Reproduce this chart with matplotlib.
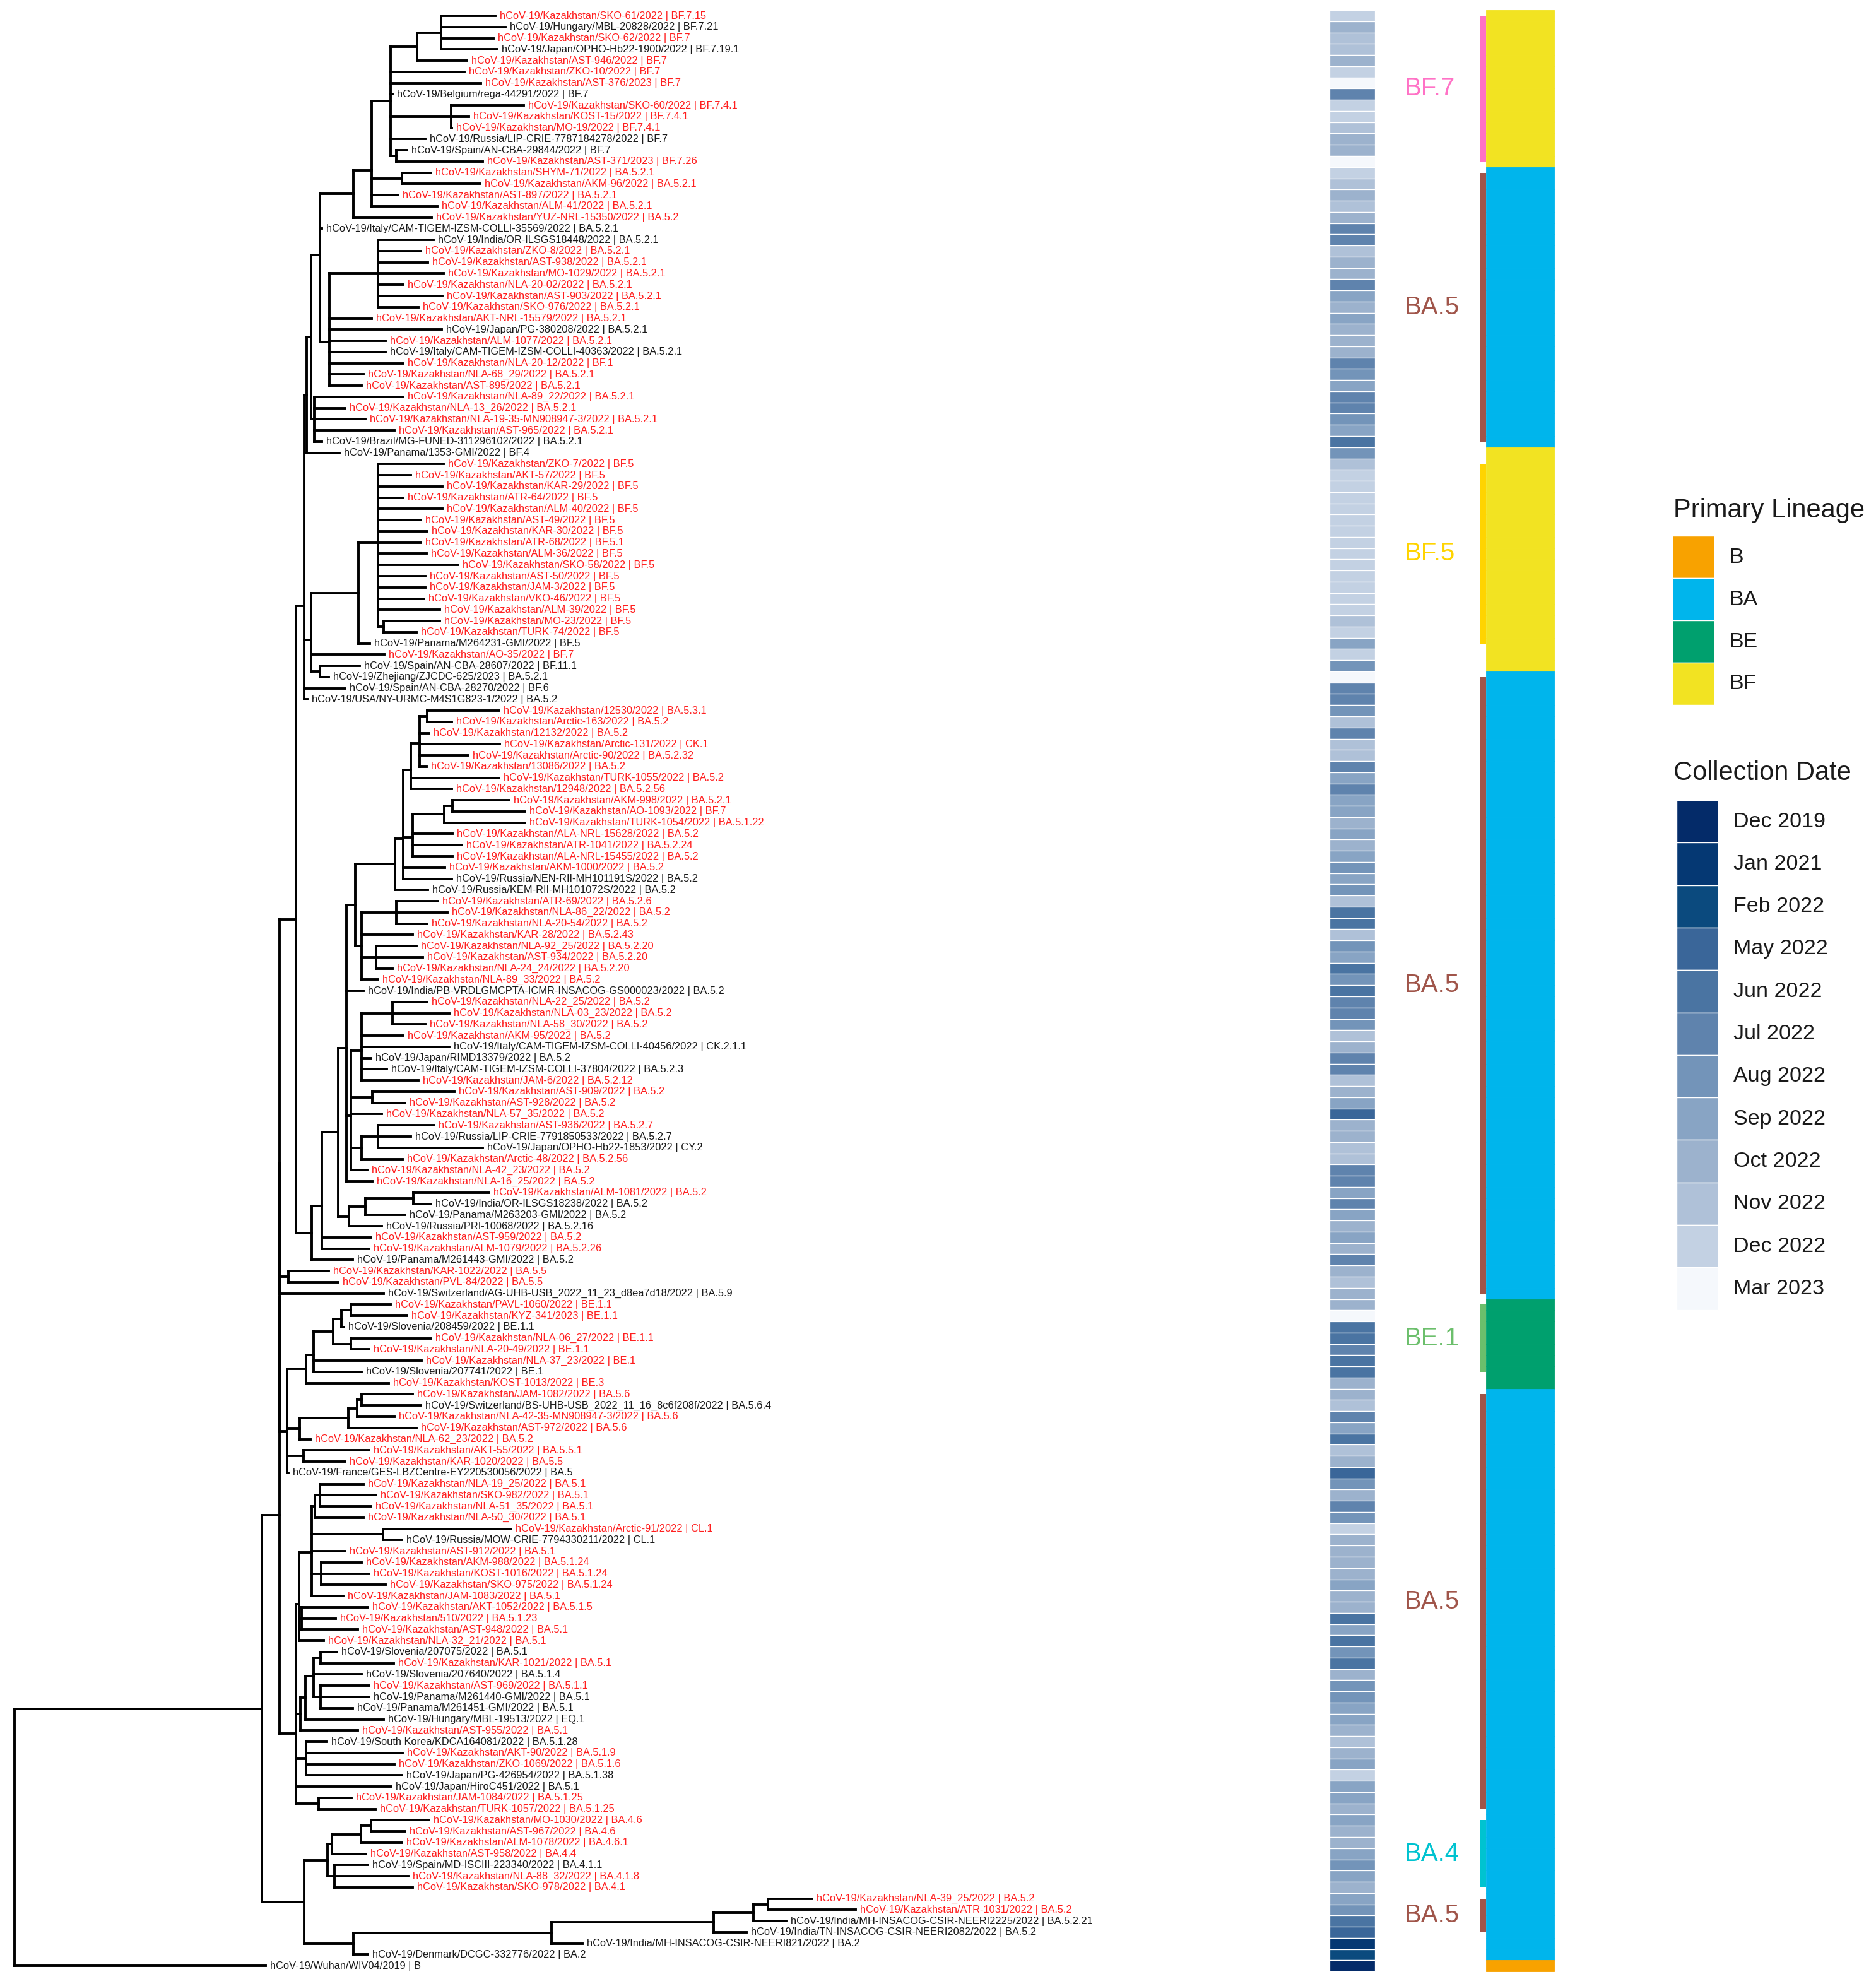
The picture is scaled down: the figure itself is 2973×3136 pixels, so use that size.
import numpy as np
import matplotlib
matplotlib.use("Agg")
import matplotlib.pyplot as plt
from matplotlib.collections import LineCollection
from matplotlib.patches import Rectangle

plt.rcParams['font.family'] = ['Liberation Sans', 'DejaVu Sans']

# ---------------- tree (newick pieces, branch lengths in tree units) ----------------
BF7 = ("(((Kazakhstan/SKO-61/2022 | BF.7.15:0.086,Hungary/MBL-20828/2022 | BF.7.21:0.102,"
       "Kazakhstan/SKO-62/2022 | BF.7:0.083,Japan/OPHO-Hb22-1900/2022 | BF.7.19.1:0.089):0.038,"
       "Kazakhstan/AST-946/2022 | BF.7:0.079):0.042,Kazakhstan/ZKO-10/2022 | BF.7:0.117,"
       "Kazakhstan/AST-376/2023 | BF.7:0.143,Belgium/rega-44291/2022 | BF.7:0.003,"
       "(Kazakhstan/SKO-60/2022 | BF.7.4.1:0.115,Kazakhstan/KOST-15/2022 | BF.7.4.1:0.028,"
       "Kazakhstan/MO-19/2022 | BF.7.4.1:0.001):0.096,Russia/LIP-CRIE-7787184278/2022 | BF.7:0.055,"
       "(Spain/AN-CBA-29844/2022 | BF.7:0.017,Kazakhstan/AST-371/2023 | BF.7.26:0.137):0.009)")
BA521_TOP = ("((" + BF7 + ":0.030,(Kazakhstan/SHYM-71/2022 | BA.5.2.1:0.046,"
             "Kazakhstan/AKM-96/2022 | BA.5.2.1:0.124):0.048,Kazakhstan/AST-897/2022 | BA.5.2.1:0.042,"
             "Kazakhstan/ALM-41/2022 | BA.5.2.1:0.104):0.029,Kazakhstan/YUZ-NRL-15350/2022 | BA.5.2:0.124)")
BA521_K = ("((India/OR-ILSGS18448/2022 | BA.5.2.1:0.088,Kazakhstan/ZKO-8/2022 | BA.5.2.1:0.068,"
           "Kazakhstan/AST-938/2022 | BA.5.2.1:0.079,Kazakhstan/MO-1029/2022 | BA.5.2.1:0.104,"
           "Kazakhstan/NLA-20-02/2022 | BA.5.2.1:0.040,Kazakhstan/AST-903/2022 | BA.5.2.1:0.102,"
           "Kazakhstan/SKO-976/2022 | BA.5.2.1:0.064):0.077,Kazakhstan/AKT-NRL-15579/2022 | BA.5.2.1:0.067,"
           "Japan/PG-380208/2022 | BA.5.2.1:0.178,Kazakhstan/ALM-1077/2022 | BA.5.2.1:0.089,"
           "Italy/CAM-TIGEM-IZSM-COLLI-40363/2022 | BA.5.2.1:0.089,Kazakhstan/NLA-20-12/2022 | BF.1:0.117,"
           "Kazakhstan/NLA-68_29/2022 | BA.5.2.1:0.054,Kazakhstan/AST-895/2022 | BA.5.2.1:0.051)")
I_CLADE = ("(" + BA521_TOP + ":0.053,Italy/CAM-TIGEM-IZSM-COLLI-35569/2022 | BA.5.2.1:0.003,"
           + BA521_K + ":0.015)")
Q2 = ("(Kazakhstan/NLA-89_22/2022 | BA.5.2.1:0.141,Kazakhstan/NLA-13_26/2022 | BA.5.2.1:0.049,"
      "Kazakhstan/NLA-19-35-MN908947-3/2022 | BA.5.2.1:0.081,Kazakhstan/AST-965/2022 | BA.5.2.1:0.127,"
      "Brazil/MG-FUNED-311296102/2022 | BA.5.2.1:0.012)")
BF5 = ("(Kazakhstan/ZKO-7/2022 | BF.5:0.104,Kazakhstan/AKT-57/2022 | BF.5:0.052,"
       "Kazakhstan/KAR-29/2022 | BF.5:0.102,Kazakhstan/ATR-64/2022 | BF.5:0.040,"
       "Kazakhstan/ALM-40/2022 | BF.5:0.102,Kazakhstan/AST-49/2022 | BF.5:0.068,"
       "Kazakhstan/KAR-30/2022 | BF.5:0.078,Kazakhstan/ATR-68/2022 | BF.5.1:0.068,"
       "Kazakhstan/ALM-36/2022 | BF.5:0.077,Kazakhstan/SKO-58/2022 | BF.5:0.127,"
       "Kazakhstan/AST-50/2022 | BF.5:0.075,Kazakhstan/JAM-3/2022 | BF.5:0.075,"
       "Kazakhstan/VKO-46/2022 | BF.5:0.073,Kazakhstan/ALM-39/2022 | BF.5:0.098,"
       "(Kazakhstan/MO-23/2022 | BF.5:0.089,Kazakhstan/TURK-74/2022 | BF.5:0.052):0.009)")
S_CLADE = ("((" + BF5 + ":0.031,Panama/M264231-GMI/2022 | BF.5:0.018):0.075,"
           "Kazakhstan/AO-35/2022 | BF.7:0.116,(Spain/AN-CBA-28607/2022 | BF.11.1:0.063,"
           "Zhejiang/ZJCDC-625/2023 | BA.5.2.1:0.014):0.014)")
V_CLADE = ("(((" + I_CLADE + ":0.014," + Q2 + ":0.005):0.007,Panama/1353-GMI/2022 | BF.4:0.052):0.004,"
           + S_CLADE + ":0.011,Spain/AN-CBA-28270/2022 | BF.6:0.065,"
           "USA/NY-URMC-M4S1G823-1/2022 | BA.5.2:0.005)")

Z1 = ("((Kazakhstan/12530/2022 | BA.5.3.1:0.114,Kazakhstan/Arctic-163/2022 | BA.5.2:0.039):0.012,"
      "Kazakhstan/12132/2022 | BA.5.2:0.015,Kazakhstan/Arctic-131/2022 | CK.1:0.127,"
      "Kazakhstan/Arctic-90/2022 | BA.5.2.32:0.077,Kazakhstan/13086/2022 | BA.5.2:0.011)")
Z2 = ("(" + Z1 + ":0.014,Kazakhstan/TURK-1055/2022 | BA.5.2:0.140,"
      "Kazakhstan/12948/2022 | BA.5.2.56:0.065)")
Z4 = ("(((Kazakhstan/AKM-998/2022 | BA.5.2.1:0.090,Kazakhstan/AO-1093/2022 | BF.7:0.115):0.013,"
      "Kazakhstan/TURK-1054/2022 | BA.5.1.22:0.128):0.050,Kazakhstan/ALA-NRL-15628/2022 | BA.5.2:0.063,"
      "Kazakhstan/ATR-1041/2022 | BA.5.2.24:0.078,Kazakhstan/ALA-NRL-15455/2022 | BA.5.2:0.063)")
Z7 = ("((" + Z2 + ":0.012," + Z4 + ":0.015,Kazakhstan/AKM-1000/2022 | BA.5.2:0.066,"
      "Russia/NEN-RII-MH101191S/2022 | BA.5.2:0.077):0.013,Russia/KEM-RII-MH101072S/2022 | BA.5.2:0.052)")
Z11 = ("((Kazakhstan/ATR-69/2022 | BA.5.2.6:0.066,Kazakhstan/NLA-86_22/2022 | BA.5.2:0.081,"
       "Kazakhstan/NLA-20-54/2022 | BA.5.2:0.049):0.055,Kazakhstan/KAR-28/2022 | BA.5.2.43:0.081,"
       "(Kazakhstan/NLA-92_25/2022 | BA.5.2.20:0.064,Kazakhstan/AST-934/2022 | BA.5.2.20:0.074,"
       "Kazakhstan/NLA-24_24/2022 | BA.5.2.20:0.026):0.023,Kazakhstan/NLA-89_33/2022 | BA.5.2:0.026)")
Z8 = "(" + Z7 + ":0.063," + Z11 + ":0.010)"
Z14 = ("((Kazakhstan/NLA-22_25/2022 | BA.5.2:0.055,Kazakhstan/NLA-03_23/2022 | BA.5.2:0.090,"
       "Kazakhstan/NLA-58_30/2022 | BA.5.2:0.052):0.049,Kazakhstan/AKM-95/2022 | BA.5.2:0.066,"
       "Italy/CAM-TIGEM-IZSM-COLLI-40456/2022 | CK.2.1.1:0.139,Japan/RIMD13379/2022 | BA.5.2:0.015,"
       "Italy/CAM-TIGEM-IZSM-COLLI-37804/2022 | BA.5.2.3:0.040,Kazakhstan/JAM-6/2022 | BA.5.2.12:0.090)")
Z16 = ("(" + Z14 + ":0.017,(Kazakhstan/AST-909/2022 | BA.5.2:0.130,Kazakhstan/AST-928/2022 | BA.5.2:0.052):0.034,"
       "Kazakhstan/NLA-57_35/2022 | BA.5.2:0.049,((Kazakhstan/AST-936/2022 | BA.5.2.7:0.089,"
       "Russia/LIP-CRIE-7791850533/2022 | BA.5.2.7:0.052,Japan/OPHO-Hb22-1853/2022 | CY.2:0.166):0.026,"
       "Kazakhstan/Arctic-48/2022 | BA.5.2.56:0.065):0.017,Kazakhstan/NLA-42_23/2022 | BA.5.2:0.026)")
Z13 = ("(" + Z8 + ":0.014,India/PB-VRDLGMCPTA-ICMR-INSACOG-GS000023/2022 | BA.5.2:0.027,"
       + Z16 + ":0.007,Kazakhstan/NLA-16_25/2022 | BA.5.2:0.041)")
N553 = ("(((Kazakhstan/ALM-1081/2022 | BA.5.2:0.120,India/OR-ILSGS18238/2022 | BA.5.2:0.028):0.076,"
        "Panama/M263203-GMI/2022 | BA.5.2:0.063):0.026,Russia/PRI-10068/2022 | BA.5.2.16:0.052)")
N494 = ("(((" + Z13 + ":0.013," + N553 + ":0.017):0.026,Kazakhstan/AST-959/2022 | BA.5.2:0.078,"
        "Kazakhstan/ALM-1079/2022 | BA.5.2.26:0.075):0.016,Panama/M261443-GMI/2022 | BA.5.2:0.065)")
W_CLADE = "(" + V_CLADE + ":0.013," + N494 + ":0.025)"

BE = ("((((Kazakhstan/PAVL-1060/2022 | BE.1.1:0.063,Kazakhstan/KYZ-341/2023 | BE.1.1:0.089):0.015,"
      "Slovenia/208459/2022 | BE.1.1:0.004):0.013,(Kazakhstan/NLA-06_27/2022 | BE.1.1:0.127,"
      "Kazakhstan/NLA-20-49/2022 | BE.1.1:0.029):0.028):0.031,Kazakhstan/NLA-37_23/2022 | BE.1:0.171,"
      "Slovenia/207741/2022 | BE.1:0.076)")
BEX = "(" + BE + ":0.012,Kazakhstan/KOST-1013/2022 | BE.3:0.131)"
BA56 = ("((((Kazakhstan/JAM-1082/2022 | BA.5.6:0.081,"
        "Switzerland/BS-UHB-USB_2022_11_16_8c6f208f/2022 | BA.5.6.4:0.094):0.007,"
        "Kazakhstan/NLA-42-35-MN908947-3/2022 | BA.5.6:0.059):0.014,Kazakhstan/AST-972/2022 | BA.5.6:0.108):0.077,"
        "Kazakhstan/NLA-62_23/2022 | BA.5.2:0.017)")
N5 = ("(" + BEX + ":0.030," + BA56 + ":0.020,(Kazakhstan/AKT-55/2022 | BA.5.5.1:0.104,"
      "Kazakhstan/KAR-1020/2022 | BA.5.5:0.066):0.026,France/GES-LBZCentre-EY220530056/2022 | BA.5:0.002)")

B51A = ("(((Kazakhstan/NLA-19_25/2022 | BA.5.1:0.069,Kazakhstan/SKO-982/2022 | BA.5.1:0.089,"
        "Kazakhstan/NLA-51_35/2022 | BA.5.1:0.081):0.008,Kazakhstan/NLA-50_30/2022 | BA.5.1:0.077):0.005,"
        "(Kazakhstan/Arctic-91/2022 | CL.1:0.203,Russia/MOW-CRIE-7794330211/2022 | CL.1:0.030):0.113,"
        "Kazakhstan/AST-912/2022 | BA.5.1:0.053,(Kazakhstan/AKM-988/2022 | BA.5.1.24:0.064,"
        "Kazakhstan/KOST-1016/2022 | BA.5.1.24:0.076,Kazakhstan/SKO-975/2022 | BA.5.1.24:0.102):0.015,"
        "Kazakhstan/JAM-1083/2022 | BA.5.1:0.050)")
B51C = ("(" + B51A + ":0.020,(Kazakhstan/AKT-1052/2022 | BA.5.1.5:0.105,Kazakhstan/510/2022 | BA.5.1.23:0.054,"
        "Kazakhstan/AST-948/2022 | BA.5.1:0.089):0.004,Kazakhstan/NLA-32_21/2022 | BA.5.1:0.039)")
N476 = ("((((Slovenia/207075/2022 | BA.5.1:0.026,Kazakhstan/KAR-1021/2022 | BA.5.1:0.116):0.011,"
        "Slovenia/207640/2022 | BA.5.1.4:0.076,(Kazakhstan/AST-969/2022 | BA.5.1.1:0.077,"
        "Panama/M261440-GMI/2022 | BA.5.1:0.077,Panama/M261451-GMI/2022 | BA.5.1:0.051):0.011):0.013,"
        "Hungary/MBL-19513/2022 | EQ.1:0.124):0.008,Kazakhstan/AST-955/2022 | BA.5.1:0.091)")
N485 = ("(South Korea/KDCA164081/2022 | BA.5.1.28:0.033,Kazakhstan/AKT-90/2022 | BA.5.1.9:0.153,"
        "Kazakhstan/ZKO-1069/2022 | BA.5.1.6:0.140,Japan/PG-426954/2022 | BA.5.1.38:0.152)")
B51 = ("(" + B51C + ":0.005," + N476 + ":0.007," + N485 + ":0.016,Japan/HiroC451/2022 | BA.5.1:0.151,"
       "(Kazakhstan/JAM-1084/2022 | BA.5.1.25:0.052,Kazakhstan/TURK-1057/2022 | BA.5.1.25:0.090):0.036)")

X_CLADE = ("(((" + W_CLADE + ":0.026,(Kazakhstan/KAR-1022/2022 | BA.5.5:0.064,"
           "Kazakhstan/PVL-84/2022 | BA.5.5:0.079):0.014,"
           "Switzerland/AG-UHB-USB_2022_11_23_d8ea7d18/2022 | BA.5.9:0.165):0.000,"
           + N5 + ":0.012):0.000," + B51 + ":0.026)")

BA4 = ("((((Kazakhstan/MO-1030/2022 | BA.4.6:0.092,Kazakhstan/AST-967/2022 | BA.4.6:0.054):0.016,"
       "Kazakhstan/ALM-1078/2022 | BA.4.6.1:0.065):0.046,Kazakhstan/AST-958/2022 | BA.4.4:0.054):0.007,"
       "(Spain/MD-ISCIII-223340/2022 | BA.4.1.1:0.053,Kazakhstan/NLA-88_32/2022 | BA.4.1.8:0.117,"
       "Kazakhstan/SKO-978/2022 | BA.4.1:0.124):0.011)")
BA2 = ("(((((Kazakhstan/NLA-39_25/2022 | BA.5.2:0.070,Kazakhstan/ATR-1031/2022 | BA.5.2:0.139):0.023,"
       "India/MH-INSACOG-CSIR-NEERI2225/2022 | BA.5.2.21:0.052):0.063,"
       "India/TN-INSACOG-CSIR-NEERI2082/2022 | BA.5.2:0.052):0.257,"
       "India/MH-INSACOG-CSIR-NEERI821/2022 | BA.2:0.049):0.314,Denmark/DCGC-332776/2022 | BA.2:0.023)")
Y_CLADE = "(" + BA4 + ":0.037," + BA2 + ":0.078)"

TREE = "((" + X_CLADE + ":0.028," + Y_CLADE + ":0.067):0.392,Wuhan/WIV04/2019 | B:0.398);"

# ---------------- annotation data ----------------
date_levels = ["Dec 2019", "Jan 2021", "Feb 2022", "May 2022", "Jun 2022", "Jul 2022",
               "Aug 2022", "Sep 2022", "Oct 2022", "Nov 2022", "Dec 2022", "Mar 2023"]
date_colors = ["#042b69", "#053873", "#0b4a7e", "#3a6699", "#4a74a2", "#5f83ad",
               "#7394b9", "#88a4c4", "#9cb2cd", "#afc1d8", "#c3d1e3", "#f5f8fc"]

# collection date of each tip (index into date_levels), top to bottom
collection_date = [
    10, 8, 9, 9, 8, 10, 11, 5, 10, 10, 9, 8, 8, 11,
    10, 9, 8, 9, 8, 5, 5,
    9, 8, 8, 5, 7, 8, 7, 8, 8, 8, 5, 6, 7,
    5, 5, 6, 7, 4, 6,
    9, 10, 10, 10, 10, 10, 10, 10, 10, 10, 10, 10, 10, 10, 9, 10,
    7, 10, 6, 11, 5, 5,
    6, 9, 5, 9, 9, 5, 7, 5, 7, 7, 8, 7, 8, 7, 6, 7, 6, 9, 4, 4, 9, 6, 7, 4, 6, 4,
    5, 5, 6, 9, 8, 5, 5, 9, 8, 7, 3, 8, 8, 9, 9, 5, 5, 7, 5, 7, 8, 7, 8, 5,
    8, 9, 8, 8, 11,
    4, 4, 5, 4, 4, 8, 8, 9, 5, 7, 4, 9, 8, 3,
    6, 8, 5, 6, 10, 8, 8, 8, 8, 7, 8, 8, 4, 7, 4, 6, 4, 8, 6, 6, 7, 7, 8, 9, 8, 7, 10, 7, 7, 8,
    7, 8, 8, 7, 6, 7, 8,
    7, 6, 4, 3, 1, 2, 0,
]

lineage_names = ["B", "BA", "BE", "BF"]
lineage_colors = {"B": "#f8a200", "BA": "#00b5ec", "BE": "#00a06e", "BF": "#f2e322"}
# primary lineage of consecutive tips, top to bottom: (lineage, number of tips)
lineage_blocks = [("BF", 14), ("BA", 25), ("BF", 20), ("BA", 56), ("BE", 8), ("BA", 51), ("B", 1)]

# clade strips: label, first tip, last tip (1-based, top to bottom), colour
clade_labels = ["BF.7", "BA.5", "BF.5", "BA.5", "BE.1", "BA.5", "BA.4", "BA.5"]
clade_first = [1, 15, 41, 60, 116, 124, 162, 169]
clade_last = [14, 39, 57, 115, 122, 161, 168, 172]
clade_colors = ["#ff72c6", "#a0554a", "#ffd400", "#a0554a", "#6cbf6c", "#a0554a", "#00c3d0", "#a0554a"]


def parse_newick(s):
    pos = 0

    def read_node():
        nonlocal pos
        kids = []
        if s[pos] == '(':
            pos += 1
            kids.append(read_node())
            while s[pos] == ',':
                pos += 1
                kids.append(read_node())
            pos += 1
        start = pos
        while s[pos] not in ',():;':
            pos += 1
        name = s[start:pos].strip()
        blen = 0.0
        if s[pos] == ':':
            pos += 1
            start = pos
            while s[pos] not in ',();':
                pos += 1
            blen = float(s[start:pos])
        return {'name': name, 'len': blen, 'kids': kids}

    return read_node()


root = parse_newick(TREE)
tips = []


def place(node, x0):
    # ggtree-like layout: tips on rows, internal node at mean of its children
    node['x'] = x0 + node['len']
    if not node['kids']:
        node['y'] = len(tips)
        tips.append(node)
    else:
        for k in node['kids']:
            place(k, node['x'])
        node['y'] = np.mean([k['y'] for k in node['kids']])


place(root, 0.0)

# map tree units to pixels of the output figure
W, H = 2973, 3136
X0, XSCALE = 23, 1000.0
Y0, DY = 25, 17.76


def px(x):
    return X0 + x * XSCALE


def py(y):
    return Y0 + y * DY


fig = plt.figure(figsize=(W / 100, H / 100), dpi=100)
ax = fig.add_axes([0, 0, 1, 1])
ax.set_xlim(0, W)
ax.set_ylim(H, 0)
ax.axis('off')

segs = []


def collect(node):
    if node['kids']:
        ys = [py(k['y']) for k in node['kids']]
        segs.append([(px(node['x']), min(ys)), (px(node['x']), max(ys))])
        for k in node['kids']:
            segs.append([(px(node['x']), py(k['y'])), (px(k['x']), py(k['y']))])
            collect(k)


collect(root)
ax.add_collection(LineCollection(segs, colors='black', linewidths=2.8, capstyle='projecting'))

for t in tips:
    col = '#ff1f1f' if 'Kazakhstan' in t['name'] else '#1a1a1a'
    ax.text(px(t['x']) + 7, py(t['y']), "hCoV-19/" + t['name'], fontsize=11.8,
            color=col, va='center', ha='left')

n_tips = len(tips)
rows = py(np.arange(n_tips))

# collection date heatmap
ax.barh(rows, 72, left=2107, height=DY,
        color=[date_colors[d] for d in collection_date[:n_tips]],
        edgecolor='white', linewidth=0.9)

# primary lineage column
lin_per_tip = []
for name, cnt in lineage_blocks:
    lin_per_tip += [name] * cnt
lin_cols = [lineage_colors[n] for n in lin_per_tip[:n_tips]]
ax.barh(rows, 108, left=2355, height=DY, color=lin_cols, edgecolor=lin_cols, linewidth=0.6)

# clade strips and labels
for lab, a, b, c in zip(clade_labels, clade_first, clade_last, clade_colors):
    y1, y2 = py(a - 1), py(b - 1)
    ax.add_patch(Rectangle((2346, y1), 9, y2 - y1, facecolor=c, edgecolor='none'))
    ax.text(2226, (y1 + y2) / 2, lab, fontsize=29, color=c, va='center', ha='left')

# legends
ax.text(2652, 809, "Primary Lineage", fontsize=30, va='center', ha='left', color='#1a1a1a')
for i, name in enumerate(lineage_names):
    top = 849 + i * 67
    ax.add_patch(Rectangle((2650, top), 67, 67, facecolor=lineage_colors[name],
                           edgecolor='white', linewidth=1))
    ax.text(2740, top + 34, name, fontsize=24.5, va='center', ha='left', color='#1a1a1a')

ax.text(2652, 1225, "Collection Date", fontsize=30, va='center', ha='left', color='#1a1a1a')
for i, (lab, c) in enumerate(zip(date_levels, date_colors)):
    top = 1268 + i * 67.3
    ax.add_patch(Rectangle((2657, top), 66, 67.3, facecolor=c, edgecolor='white', linewidth=1))
    ax.text(2747, top + 34, lab, fontsize=24.5, va='center', ha='left', color='#1a1a1a')

fig.savefig("out.png", dpi=100, facecolor='white')
